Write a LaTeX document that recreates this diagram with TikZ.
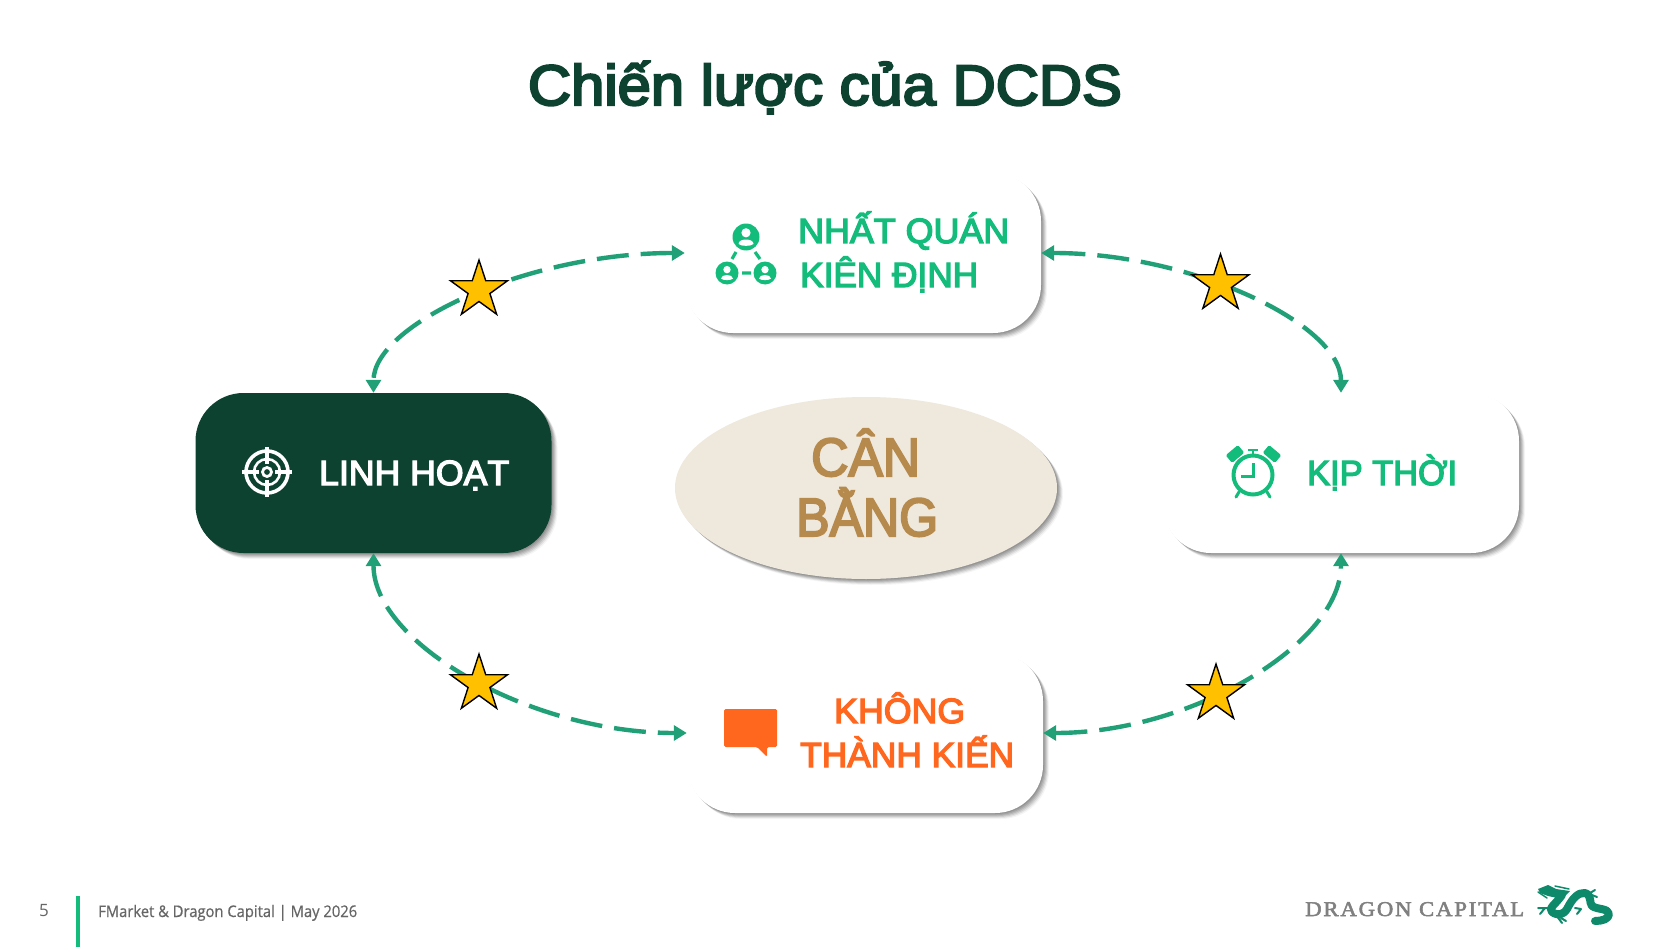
\documentclass[tikz,border=0pt]{standalone}
\usepackage{fontspec}
\usepackage{graphicx}
\usetikzlibrary{shapes.geometric,shadows,arrows.meta}
\setmainfont{Liberation Sans}
\newfontfamily\footfont{Open Sans}
\newfontfamily\logofont[LetterSpace=8]{Liberation Serif}
\definecolor{dcdark}{HTML}{0D4230}
\definecolor{dcgreen}{HTML}{14BC7C}
\definecolor{dcorange}{HTML}{FF671F}
\definecolor{dcteal}{HTML}{21A078}
\definecolor{dcsand}{HTML}{EFE8DC}
\definecolor{dcgold}{HTML}{B68A4D}
\definecolor{dcstar}{HTML}{FFC000}
\definecolor{dcdragon}{HTML}{0E8A6A}
% stroke the glyph outlines too, for the medium weight of the reference
\newcommand{\heavy}[2]{\special{pdf:code 2 Tr #1 w}#2\special{pdf:code 0 Tr}}
\newcommand{\fitw}[3][1.3]{\resizebox{#2pt}{\height}{\heavy{#1}{#3}}}
\tikzset{
  softshadow/.style={
    general shadow={shadow xshift=1pt,shadow yshift=-1pt,fill=black,opacity=.10},
    general shadow={shadow xshift=2pt,shadow yshift=-2pt,fill=black,opacity=.10},
    general shadow={shadow xshift=3pt,shadow yshift=-3pt,fill=black,opacity=.10},
    general shadow={shadow xshift=4pt,shadow yshift=-4pt,fill=black,opacity=.09},
    general shadow={shadow xshift=5pt,shadow yshift=-5pt,fill=black,opacity=.07},
    general shadow={shadow xshift=6pt,shadow yshift=-6pt,fill=black,opacity=.04}},
  card/.style={rectangle,rounded corners=48pt,minimum width=356pt,minimum height=160pt,inner sep=0pt,fill=white,softshadow},
  label/.style={inner sep=0pt,anchor=base west,font=\fontsize{35}{35}\selectfont},
  arc/.style={draw=dcteal,line width=4.4pt,dash pattern=on 32pt off 12pt,
    {Triangle[length=13pt,width=15pt,fill=dcteal]}-{Triangle[length=13pt,width=15pt,fill=dcteal]}},
  starmark/.style={star,star points=5,star point ratio=2.618,minimum size=60pt,inner sep=0pt,fill=dcstar,draw=black,line width=1.4pt},
  person/.pic={
    \fill[white] (0,-4.2) circle[radius=4.6];
    \fill[white] (-7.5,7) .. controls (-7.5,1) and (7.5,1) .. (7.5,7) .. controls (5,9.5) and (-5,9.5) .. cycle;
  }
}
\begin{document}
\begin{tikzpicture}[x=1pt,y=-1pt]
\useasboundingbox (0,0) rectangle (1671,947);
\fill[white] (0,0) rectangle (1671,947);

% title
\node[inner sep=0pt,anchor=base,text=dcdark] (title) at (825,105)
  {\fitw[2.2]{594}{\fontsize{57}{57}\selectfont Chiến lược của DCDS}};

% cards
\node[card] (top) at (863,253) {};
\node[card,fill=dcdark] (left) at (373.5,473) {};
\node[card] (right) at (1341,473) {};
\node[card] (bottom) at (865,733) {};
\node[ellipse,minimum width=382pt,minimum height=182pt,inner sep=0pt,fill=dcsand,softshadow] (centre) at (866,488) {};

% connectors
\draw[arc] (top.west) .. controls +(-156,0) and +(0,-69) .. (left.north);
\draw[arc] (top.east) .. controls +(150,0) and +(0,-69) .. (right.north);
\draw[arc] (left.south) .. controls +(0,90) and +(-157,0) .. (bottom.west);
\draw[arc] (bottom.east) .. controls +(149,0) and +(0,90) .. (right.south);

% stars
\node[starmark] (s1) at (479,290) {};
\node[starmark] (s2) at (1220.5,284) {};
\node[starmark] (s3) at (479,684) {};
\node[starmark] (s4) at (1216,694) {};

% labels
\node[label,text=dcgreen] (t1) at (798,243) {\fitw{211}{NHẤT QUÁN}};
\node[label,text=dcgreen] (t2) at (800,287) {\fitw{178}{KIÊN ĐỊNH}};
\node[label,text=white] (t3) at (319,485) {\fitw{190}{LINH HOẠT}};
\node[label,text=dcgreen] (t4) at (1307,485) {\fitw{150}{KỊP THỜI}};
\node[label,text=dcorange] (t5) at (834,723) {\fitw{131}{KHÔNG}};
\node[label,text=dcorange] (t6) at (800,767) {\fitw{214}{THÀNH KIẾN}};
\node[label,text=dcgold,font=\fontsize{54}{54}\selectfont] (t7) at (811,476) {\fitw[2]{109}{CÂN}};
\node[label,text=dcgold,font=\fontsize{54}{54}\selectfont] (t8) at (796,536) {\fitw[2]{142}{BẰNG}};

% network icon
\fill[dcgreen] (746,237) circle[radius=13.5] (727,273) circle[radius=11.5] (765,273) circle[radius=11.5];
\pic[scale=1] at (746,237) {person};
\pic[scale=.8] at (727,273) {person};
\pic[scale=.8] at (765,273) {person};
\draw[dcgreen,line width=3.2pt] (736,252) -- (732,259) (755,252) -- (760,259) (742,273) -- (751,273);

% target icon
\begin{scope}[white]
\draw[line width=3.6pt] (267,472) circle[radius=21];
\draw[line width=2.6pt] (267,472) circle[radius=13];
\draw[line width=2.8pt] (267,472) circle[radius=4.5];
\draw[line width=3.2pt] (242,472) -- (259,472) (275,472) -- (292,472) (267,447) -- (267,464) (267,480) -- (267,497);
\end{scope}

% clock icon
\begin{scope}[dcgreen]
\draw[line width=4pt] (1253,475) circle[radius=19.5];
\draw[line width=3pt] (1253,463) -- (1253,476) -- (1241,476);
\fill[rotate around={40:(1235,454)},rounded corners=1.5pt] (1227,449) rectangle (1243,459);
\fill[rotate around={-40:(1272,454)},rounded corners=1.5pt] (1264,449) rectangle (1280,459);
\draw[line width=2.5pt] (1248,450) -- (1258,450) (1253,450) -- (1253,455);
\draw[line width=3pt,line cap=round] (1239,492) -- (1236,497) (1267,492) -- (1270,497);
\end{scope}

% speech bubble
\fill[dcorange,rounded corners=1.5pt] (724,709) -- (777,709) -- (777,747) -- (767,747) -- (767,757) -- (757,747) -- (724,747) -- cycle;

% footer
\fill[dcgreen] (76,896) rectangle (80,947);
\node[inner sep=0pt,anchor=base west,text=black!60,font=\footfont\fontsize{17}{17}\selectfont] (pg) at (39,916) {5};
\node[inner sep=0pt,anchor=base west,text=black!60,font=\footfont\fontsize{16}{16}\selectfont] (ft) at (98,917) {\fitw[0.1]{259}{FMarket \& Dragon Capital | May 2026}};
\node[inner sep=0pt,anchor=base west,text=black!50,font=\logofont\fontsize{21}{21}\selectfont] (logo) at (1305,916) {\fitw[0.5]{219}{DRAGON CAPITAL}};

% dragon
\begin{scope}[dcdragon,line cap=round,line join=round]
\fill (1538,889) -- (1548,885) -- (1556,889) -- (1570,891) -- (1566,895) -- (1562,899) -- (1548,896) -- (1540,893) -- cycle;
\draw[line width=8pt] (1562,895) .. controls (1555,905) and (1548,908) .. (1552,912) .. controls (1558,916) and (1563,915) .. (1567,909)
  .. controls (1572,899) and (1578,892) .. (1585,893) .. controls (1592,895) and (1589,903) .. (1592,906)
  .. controls (1598,910) and (1608,908) .. (1609,914) .. controls (1609,919) and (1602,921) .. (1595,921);
\draw[line width=2pt] (1552,908) -- (1538,908) (1545,908) -- (1540,914) (1556,915) -- (1562,923) (1561,918) -- (1566,921)
  (1584,892) -- (1597,897) (1590,893) -- (1595,890) (1581,909) -- (1575,908) (1581,909) -- (1577,914);
\draw[line width=1.5pt] (1555,886) -- (1569,889) (1538,892) -- (1547,898);
\end{scope}
\end{tikzpicture}
\end{document}
